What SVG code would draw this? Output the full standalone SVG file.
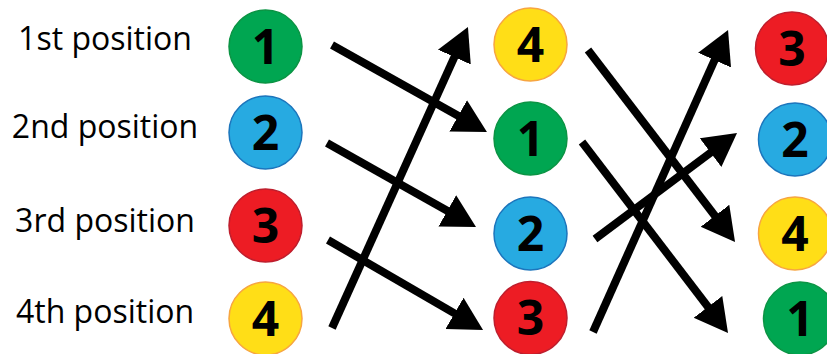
<svg xmlns="http://www.w3.org/2000/svg" width="827" height="354" viewBox="0 0 827 354">
<style>
.lbl{font-family:"Open Sans","Noto Sans",sans-serif;font-size:32px;fill:#000;text-anchor:middle}
.num{font-family:"Open Sans","Noto Sans",sans-serif;font-size:48px;font-weight:700;fill:#000;text-anchor:middle}
.g{fill:#00A651;stroke:#0B9444;stroke-width:1.5}
.b{fill:#27AAE1;stroke:#1C75BC;stroke-width:1.5}
.r{fill:#ED1C24;stroke:#BE1E2D;stroke-width:1.5}
.y{fill:#FFDE17;stroke:#F7A541;stroke-width:1.5}
.arr{stroke:#000;stroke-width:8;fill:none;marker-end:url(#head)}
</style>
<defs>
<marker id="head" markerUnits="userSpaceOnUse" viewBox="0 -20 40 40" markerWidth="40" markerHeight="40" refX="3" refY="0" orient="auto">
<path d="M0,-18 L33,0 L0,18 z" fill="#000"/>
</marker>
</defs>
<g id="labels">
<text class="lbl" x="105" y="50">1st position</text>
<text class="lbl" x="105" y="138">2nd position</text>
<text class="lbl" x="105" y="232">3rd position</text>
<text class="lbl" x="105" y="323">4th position</text>
</g>
<g id="c1n1"><circle class="g" cx="265.5" cy="46.5" r="36.5"/><text class="num" x="265.5" y="63.5">1</text></g>
<g id="c1n2"><circle class="b" cx="265.5" cy="132.5" r="36.5"/><text class="num" x="265.5" y="149.5">2</text></g>
<g id="c1n3"><circle class="r" cx="265.5" cy="225.5" r="36.5"/><text class="num" x="265.5" y="242.5">3</text></g>
<g id="c1n4"><circle class="y" cx="265.5" cy="318.5" r="36.5"/><text class="num" x="265.5" y="335.5">4</text></g>
<g id="c2n4"><circle class="y" cx="530.5" cy="44.5" r="36.5"/><text class="num" x="530.5" y="61.5">4</text></g>
<g id="c2n1"><circle class="g" cx="530.5" cy="138.5" r="36.5"/><text class="num" x="530.5" y="155.5">1</text></g>
<g id="c2n2"><circle class="b" cx="530.5" cy="233.5" r="36.5"/><text class="num" x="530.5" y="250.5">2</text></g>
<g id="c2n3"><circle class="r" cx="530.5" cy="318" r="36.5"/><text class="num" x="530.5" y="335">3</text></g>
<g id="c3n3"><circle class="r" cx="792" cy="48.5" r="36.5"/><text class="num" x="792" y="65.5">3</text></g>
<g id="c3n2"><circle class="b" cx="795" cy="139.5" r="36.5"/><text class="num" x="795" y="156.5">2</text></g>
<g id="c3n4"><circle class="y" cx="795" cy="233.5" r="36.5"/><text class="num" x="795" y="250.5">4</text></g>
<g id="c3n1"><circle class="g" cx="800" cy="318.5" r="36.5"/><text class="num" x="800" y="335.5">1</text></g>
<g id="connectors">
<line class="arr" x1="332" y1="45" x2="460.8" y2="117.3"/>
<line class="arr" x1="327" y1="143" x2="449.9" y2="212.3"/>
<line class="arr" x1="328" y1="240" x2="457.1" y2="314.9"/>
<line class="arr" x1="332" y1="328" x2="455.6" y2="54.3"/>
<line class="arr" x1="588" y1="50" x2="716.8" y2="218.2"/>
<line class="arr" x1="582" y1="142" x2="709.8" y2="309.2"/>
<line class="arr" x1="595" y1="239" x2="713" y2="150.9"/>
<line class="arr" x1="593" y1="332" x2="715.8" y2="57.4"/>
</g>
</svg>
